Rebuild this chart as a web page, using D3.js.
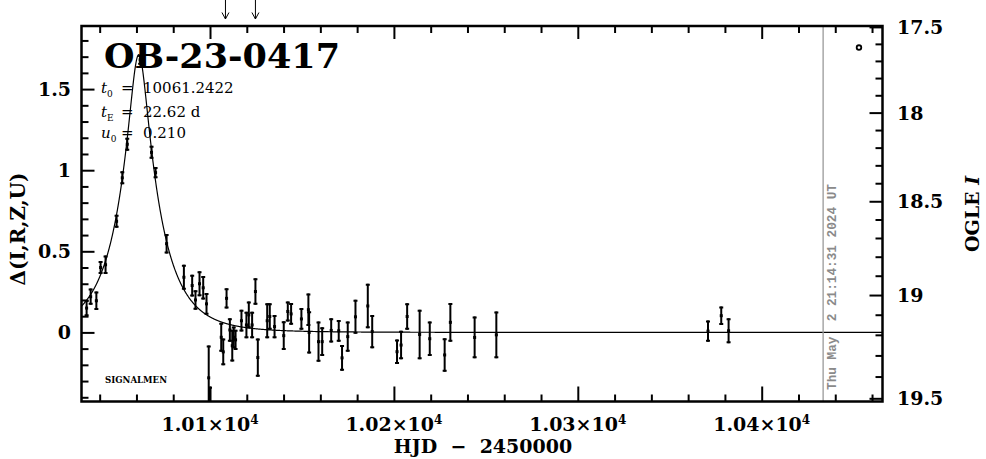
<!DOCTYPE html>
<html><head><meta charset="utf-8">
<script src="https://cdn.jsdelivr.net/npm/d3@7"></script>
<style>body{margin:0;background:#fff}svg{display:block}</style>
</head><body>
<svg id="c" width="986" height="459"></svg>
<script>
// ---- data ----
const hjd = [10032.9,10035.1,10038.2,10040.5,10043.2,10049.2,10052.3,10055.0,10062.0,10068.2,10070.4,10076.4,
  10085.8,10090.3,10092.1,10094.3,10096.3,10098.1,10099.3,10100.0,10106.1,10107.2,10109.0,10110.8,10112.1,10112.9,
  10113.9,10117.1,10119.8,10121.1,10122.9,10124.7,10126.0,10131.1,10132.5,10135.1,10140.1,10142.3,10144.1,10149.7,
  10153.5,10153.9,10159.0,10161.0,10165.9,10170.0,10171.8,10174.9,10179.1,10185.8,10188.2,10201.7,10203.9,10207.2,
  10214.0,10219.5,10227.6,10230.7,10243.9,10255.7,10370.8,10378.0,10382.0];
const delta = [0.15,0.22,0.195,0.40,0.417,0.685,0.953,1.16,1.68,1.11,0.985,0.547,
  0.34,0.289,0.20,0.30,0.275,0.176,-0.28,-0.55,-0.03,-0.12,0.21,0.015,-0.082,-0.03,
  -0.046,0.072,0.046,0.108,0.046,0.252,-0.155,0.072,0.098,0.036,-0.02,0.129,0.114,0.083,
  0.14,0.0,-0.057,-0.057,0.012,0.01,-0.157,-0.026,0.096,0.163,0.005,-0.119,-0.078,0.098,
  -0.013,-0.039,-0.139,0.062,-0.031,-0.015,0.008,0.103,0.01];
const deltaErr = [0.05,0.05,0.057,0.04,0.057,0.04,0.04,0.04,0.03,0.04,0.035,0.06,
  0.077,0.067,0.06,0.077,0.072,0.067,0.20,0.215,0.09,0.082,0.062,0.072,0.098,0.067,
  0.062,0.067,0.082,0.082,0.082,0.082,0.118,0.108,0.082,0.072,0.088,0.062,0.067,0.067,
  0.10,0.13,0.124,0.089,0.075,0.067,0.079,0.093,0.105,0.137,0.103,0.076,0.088,0.082,
  0.153,0.106,0.103,0.119,0.129,0.144,0.065,0.057,0.077];

const xMajorTicks = [10100, 10200, 10300, 10400];
const xTickMantissa = ["1.01", "1.02", "1.03", "1.04"];
const yMajorTicks = [0, 0.5, 1, 1.5];
const yTickLabels = ["0", "0.5", "1", "1.5"];
const magTicks = [17.5, 18, 18.5, 19, 19.5];
const magTickLabels = ["17.5", "18", "18.5", "19", "19.5"];
const arrowDates = [10108.4, 10124.7];
const fitT0 = 10061.2422, fitTE = 22.62, fitU0 = 0.210;
const ogleBaseMag = 19.188, ogleSourceFrac = 0.8;
const nowLineHJD = 10433.4;
const legendMarker = [10452.9, 1.756];
const xDomain = [10030.12, 10465.69];
const yDomain = [-0.426, 1.889];

// ---- drawing ----
const svg = d3.select("#c");
const L = 81.5, R = 882.5, T = 26, B = 401.5;
const x = d3.scaleLinear().domain(xDomain).range([L, R]);
const y = d3.scaleLinear().domain(yDomain).range([B, T]);
const serif = "'DejaVu Serif', serif";

svg.append("defs").append("clipPath").attr("id","clip")
  .append("rect").attr("x",L).attr("y",T).attr("width",R-L).attr("height",B-T);

const plot = svg.append("g").attr("clip-path","url(#clip)");

// model curve (from the printed fit parameters)
function magnif(t){
  const tau = (t - fitT0) / fitTE;
  const u2 = fitU0*fitU0 + tau*tau, u = Math.sqrt(u2);
  return (u2 + 2) / (u * Math.sqrt(u2 + 4));
}
const curveT = d3.range(xDomain[0], xDomain[1], 0.1);
plot.append("path").datum(curveT)
  .attr("d", d3.line().x(t=>x(t)).y(t=>y(2.5*Math.log10(magnif(t)))))
  .attr("fill","none").attr("stroke","#000").attr("stroke-width",1.2);

// gray "now" line
svg.append("line").attr("x1",x(nowLineHJD)).attr("x2",x(nowLineHJD)).attr("y1",T).attr("y2",B)
  .attr("stroke","#9a9a9a").attr("stroke-width",1.3);
svg.append("text").attr("transform",`translate(${x(nowLineHJD)+13},390) rotate(-90)`)
  .attr("font-family","'Liberation Mono', monospace").attr("font-weight","bold").attr("font-size",12.5)
  .attr("fill","#8a8a8a").attr("textLength",206).attr("lengthAdjust","spacingAndGlyphs")
  .attr("xml:space","preserve").style("white-space","pre")
  .text("Thu May  2 21:14:31 2024 UT");

// data points
const pts = hjd.map((t,i)=>({t, d:delta[i], e:deltaErr[i]}));
const pg = plot.append("g").attr("stroke","#000").attr("stroke-width",2);
pts.forEach(p=>{
  const cx = x(p.t), y1 = y(p.d + p.e), y2 = y(p.d - p.e);
  pg.append("line").attr("x1",cx).attr("x2",cx).attr("y1",y1).attr("y2",y2);
  pg.append("line").attr("x1",cx-2).attr("x2",cx+2).attr("y1",y1+1).attr("y2",y1+1);
  pg.append("line").attr("x1",cx-2).attr("x2",cx+2).attr("y1",y2-1).attr("y2",y2-1);
  plot.append("rect").attr("x",cx-1.5).attr("y",y(p.d)-1.5).attr("width",3).attr("height",3).attr("fill","#000");
});

// legend circle
svg.append("circle").attr("cx",x(legendMarker[0])).attr("cy",y(legendMarker[1])).attr("r",2.3)
  .attr("fill","none").attr("stroke","#000").attr("stroke-width",1.8);

// axes ticks (inward)
function styleAxis(g){ g.select(".domain").remove(); g.selectAll("line").attr("stroke","#000").attr("stroke-width",2); g.selectAll("text").remove(); }
const xMinor = d3.range(10040, 10461, 20).filter(v=>!xMajorTicks.includes(v));
svg.append("g").attr("transform",`translate(0,${B})`).call(d3.axisBottom(x).tickValues(xMinor).tickSize(-7)).call(styleAxis);
svg.append("g").attr("transform",`translate(0,${B})`).call(d3.axisBottom(x).tickValues(xMajorTicks).tickSize(-15)).call(styleAxis);
svg.append("g").attr("transform",`translate(0,${T})`).call(d3.axisTop(x).tickValues(xMinor).tickSize(-7)).call(styleAxis);
svg.append("g").attr("transform",`translate(0,${T})`).call(d3.axisTop(x).tickValues(xMajorTicks).tickSize(-13)).call(styleAxis);

const yMinor = d3.range(-4, 19).map(v=>v/10).filter(v=>!yMajorTicks.includes(v));
svg.append("g").attr("transform",`translate(${L},0)`).call(d3.axisLeft(y).tickValues(yMinor).tickSize(-7)).call(styleAxis);
svg.append("g").attr("transform",`translate(${L},0)`).call(d3.axisLeft(y).tickValues(yMajorTicks).tickSize(-13)).call(styleAxis);

// right axis: OGLE I magnitude
function magToDelta(m){ return 2.5*Math.log10(1 + (Math.pow(10, 0.4*(ogleBaseMag - m)) - 1)/ogleSourceFrac); }
const magGrid = d3.range(17.3, 19.71, 0.02);
const magScale = d3.scaleLinear().domain(magGrid).range(magGrid.map(m=>y(magToDelta(m))));
const magMinor = d3.range(176, 195).map(v=>v/10).filter(v=>!magTicks.includes(v));
svg.append("g").attr("transform",`translate(${R},0)`).call(d3.axisRight(magScale).tickValues(magMinor).tickSize(-7)).call(styleAxis);
svg.append("g").attr("transform",`translate(${R},0)`).call(d3.axisRight(magScale).tickValues(magTicks).tickSize(-13)).call(styleAxis);

// frame
svg.append("rect").attr("x",L).attr("y",T).attr("width",R-L).attr("height",B-T)
  .attr("fill","none").attr("stroke","#000").attr("stroke-width",2.5);

// tick labels
const lab = svg.append("g").attr("font-family",serif).attr("font-weight","bold").attr("font-size",19).attr("fill","#000");
xMajorTicks.forEach((v,i)=>{
  const t = lab.append("text").attr("x",x(v)).attr("y",431).attr("text-anchor","middle");
  t.append("tspan").text(xTickMantissa[i] + "×10");
  t.append("tspan").attr("font-size",12).attr("dy",-7).text("4");
});
yMajorTicks.forEach((v,i)=>{
  lab.append("text").attr("x",71).attr("y",y(v)+7).attr("text-anchor","end").text(yTickLabels[i]);
});
magTicks.forEach((m,i)=>{
  lab.append("text").attr("x",897).attr("y",magScale(m)+7).attr("text-anchor","start").text(magTickLabels[i]);
});

// axis titles
lab.append("text").attr("x",483).attr("y",453).attr("text-anchor","middle").attr("font-size",19)
  .attr("xml:space","preserve").style("white-space","pre").text("HJD  −  2450000");
lab.append("text").attr("transform","translate(25,229) rotate(-90)").attr("text-anchor","middle").attr("font-size",20)
  .text("Δ(I,R,Z,U)");
const og = lab.append("text").attr("transform","translate(979,214) rotate(-90)").attr("text-anchor","middle").attr("font-size",19);
og.append("tspan").text("OGLE ");
og.append("tspan").attr("font-style","italic").text("I");

// title and parameters
svg.append("text").attr("x",104).attr("y",68).attr("font-family",serif).attr("font-weight","bold")
  .attr("font-size",33).attr("textLength",236).attr("lengthAdjust","spacingAndGlyphs").text("OB-23-0417");
const params = [["t","0","10061.2422",93],["t","E","22.62 d",117],["u","0","0.210",138]];
params.forEach(p=>{
  const g = svg.append("g").attr("font-family",serif).attr("font-size",15);
  const t = g.append("text").attr("x",101).attr("y",p[3]);
  t.append("tspan").attr("font-style","italic").text(p[0]);
  t.append("tspan").attr("font-size",9).attr("dy",4).text(p[1]);
  g.append("text").attr("x",121).attr("y",p[3]).text("=");
  g.append("text").attr("x",143).attr("y",p[3]).text(p[2]);
});
svg.append("text").attr("x",105).attr("y",383).attr("font-family",serif).attr("font-weight","bold")
  .attr("font-size",9.5).attr("textLength",62).attr("lengthAdjust","spacingAndGlyphs").text("SIGNALMEN");

// arrows at top
arrowDates.forEach(d=>{
  const ax = x(d);
  svg.append("line").attr("x1",ax).attr("x2",ax).attr("y1",0).attr("y2",19).attr("stroke","#000").attr("stroke-width",1);
  svg.append("path").attr("d",`M${ax-3.5},12.5 L${ax},19 L${ax+3.5},12.5`).attr("fill","none").attr("stroke","#000").attr("stroke-width",1);
});
</script>
</body></html>
